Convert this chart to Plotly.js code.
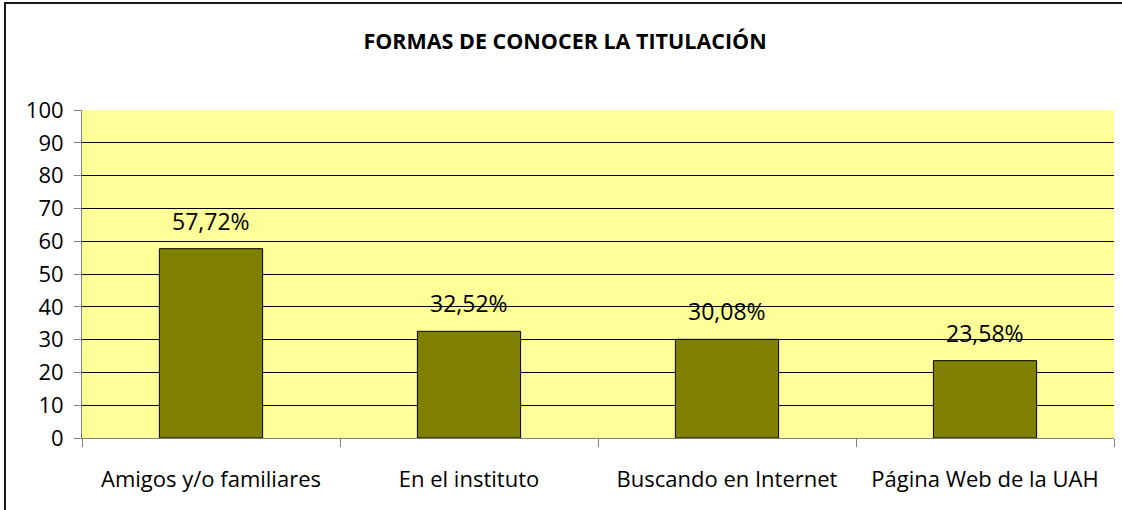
<!DOCTYPE html>
<html>
<head>
<meta charset="utf-8">
<script src="https://cdn.plot.ly/plotly-3.0.1.min.js"></script>
<style>
  html, body { margin: 0; padding: 0; background: #fff; }
  #wrap { position: relative; width: 1122px; height: 510px; overflow: hidden; }
  #chart { width: 1122px; height: 510px; }
  #frame { position: absolute; left: 4px; top: 2px; width: 1130px; height: 520px;
           border-left: 2px solid #1a1a1a; border-top: 2px solid #1a1a1a; pointer-events: none; }
</style>
</head>
<body>
<div id="wrap">
  <div id="chart"></div>
  <div id="frame"></div>
</div>
<script>
const categories = ["Amigos y/o familiares", "En el instituto", "Buscando en Internet", "Página Web de la UAH"];
const values = [57.72, 32.52, 30.08, 23.58];
const valueLabels = ["57,72%", "32,52%", "30,08%", "23,58%"];
const yTicks = [0, 10, 20, 30, 40, 50, 60, 70, 80, 90, 100];

const FONT = "Open Sans, Liberation Sans, sans-serif";

const trace = {
  type: "bar",
  x: categories,
  y: values,
  marker: { color: "#808000", line: { color: "#000000", width: 1 } },
  hoverinfo: "none"
};

const annotations = categories.map((c, i) => ({
  x: c, y: values[i], xref: "x", yref: "y",
  text: valueLabels[i], showarrow: false,
  yanchor: "bottom", yshift: 10,
  font: { family: FONT, size: 23, color: "#000" }
}));

const layout = {
  width: 1122, height: 510,
  margin: { l: 82, r: 8, t: 110, b: 72 },
  paper_bgcolor: "#ffffff",
  plot_bgcolor: "#FFFF99",
  title: {
    text: "<b>FORMAS DE CONOCER LA TITULACIÓN</b>",
    x: 0.5036, xref: "container", xanchor: "center",
    y: 0.918, yref: "container", yanchor: "middle",
    font: { family: FONT, size: 21.5, color: "#000" }
  },
  bargap: 0.6,
  showlegend: false,
  xaxis: {
    type: "category",
    showline: true, linecolor: "#808080", linewidth: 1,
    ticks: "outside", tickson: "boundaries", ticklen: 8, tickcolor: "#808080", tickwidth: 1,
    showgrid: false,
    tickfont: { family: FONT, size: 22, color: "#000" },
    ticklabelstandoff: 22,
    fixedrange: true
  },
  yaxis: {
    range: [0, 100],
    tickvals: yTicks,
    ticktext: yTicks.map(String),
    showline: true, linecolor: "#808080", linewidth: 1,
    ticks: "outside", ticklen: 7, tickcolor: "#808080", tickwidth: 1,
    showgrid: true, gridcolor: "#000000", gridwidth: 1,
    zeroline: false,
    tickfont: { family: FONT, size: 22, color: "#000" },
    ticklabelstandoff: 6,
    fixedrange: true
  },
  annotations: annotations
};

Plotly.newPlot("chart", [trace], layout, { displayModeBar: false, staticPlot: true });
</script>
</body>
</html>
